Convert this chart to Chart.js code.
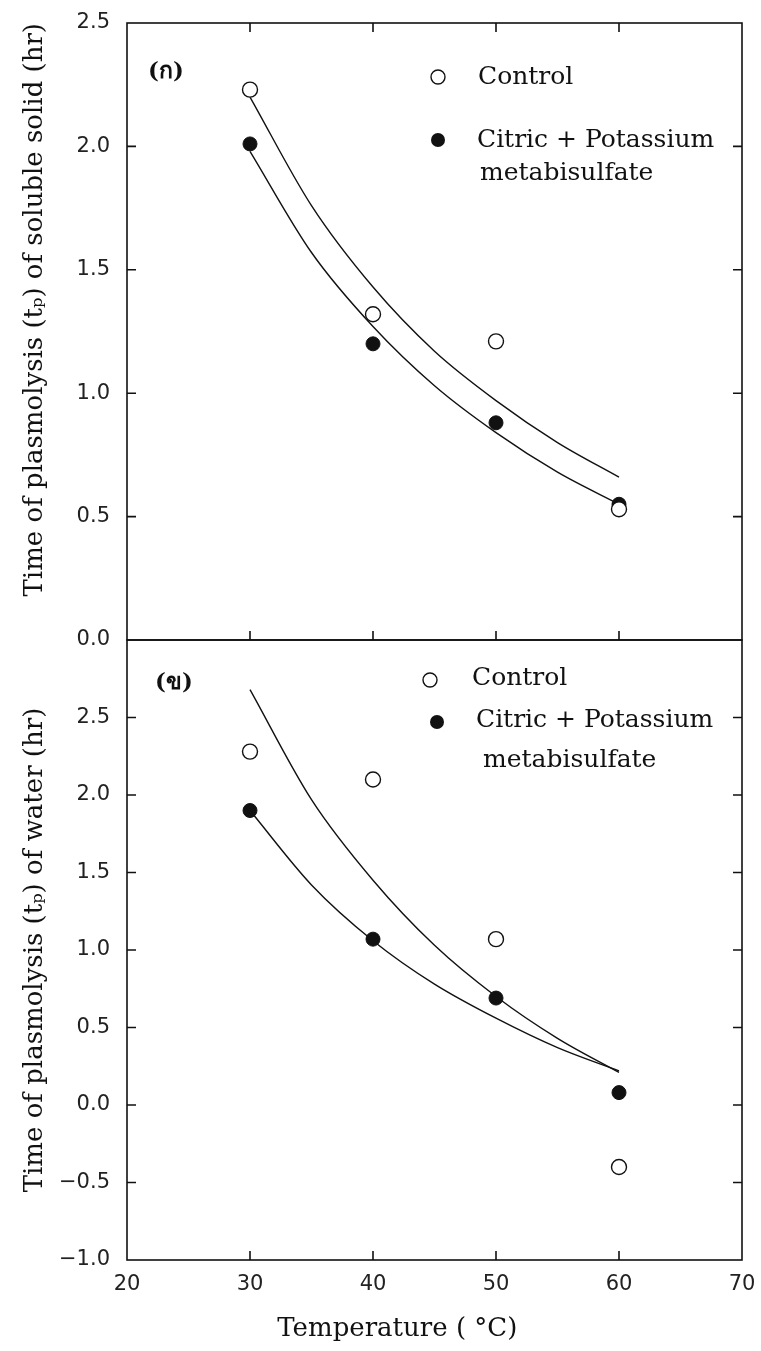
<!DOCTYPE html>
<html>
<head>
<meta charset="utf-8">
<script src="https://cdn.jsdelivr.net/npm/chart.js@4.4.1/dist/chart.umd.min.js"></script>
<style>
  html, body { margin: 0; padding: 0; background: #fff; }
  #wrap { position: relative; width: 761px; height: 1351px; overflow: hidden; }
  .panel { position: absolute; left: 0; width: 761px; }
  #top { top: 0; height: 660px; }
  #bottom { top: 620px; height: 731px; }
</style>
</head>
<body>
<div id="wrap">
  <div class="panel" id="top"><canvas id="chartTop"></canvas></div>
  <div class="panel" id="bottom"><canvas id="chartBottom"></canvas></div>
</div>
<script>
// Measured temperatures (°C)
const temps = [30, 40, 50, 60];

// (ก) time of plasmolysis of soluble solid (hr)
const solidControl = [2.23, 1.32, 1.21, 0.53];
const solidCitric = [2.01, 1.20, 0.88, 0.55];

// (ข) time of plasmolysis of water (hr)
const waterControl = [2.28, 2.10, 1.07, -0.40];
const waterCitric = [1.90, 1.07, 0.69, 0.08];

// fitted curves
const curveTemps = [30, 35, 40, 45, 50, 55, 60];
const solidControlFit = [2.20, 1.76, 1.43, 1.17, 0.97, 0.80, 0.66];
const solidCitricFit = [1.98, 1.57, 1.27, 1.03, 0.84, 0.68, 0.55];
const waterControlFit = [2.68, 1.97, 1.45, 1.03, 0.70, 0.43, 0.21];
const waterCitricFit = [1.90, 1.42, 1.06, 0.78, 0.56, 0.37, 0.22];

// tick labels
const xTicks = [20, 30, 40, 50, 60, 70];
const solidTicks = [0, 0.5, 1.0, 1.5, 2.0, 2.5];
const waterTicks = [-1.0, -0.5, 0, 0.5, 1.0, 1.5, 2.0, 2.5];

const INK = '#111';
const SERIF = '"DejaVu Serif", serif';
const pts = (xs, ys) => xs.map((x, i) => ({ x: x, y: ys[i] }));

// frame with inward ticks, panel label and hand-placed legend
const framePlugin = {
    id: 'frame',
    afterDatasetsDraw(chart, args, opts) {
        const { ctx, chartArea: a, scales: { x, y } } = chart;
        ctx.save();
        ctx.strokeStyle = INK;
        ctx.lineWidth = 1.6;
        ctx.strokeRect(a.left, a.top, a.right - a.left, a.bottom - a.top);

        const t = 9;
        ctx.beginPath();
        xTicks.forEach(v => {
            if (v <= x.min || v >= x.max) return;
            const px = x.getPixelForValue(v);
            ctx.moveTo(px, a.bottom); ctx.lineTo(px, a.bottom - t);
            if (opts.topTicks) { ctx.moveTo(px, a.top); ctx.lineTo(px, a.top + t); }
        });
        y.ticks.forEach(tk => {
            if (tk.value <= y.min || tk.value >= y.max) return;
            const py = y.getPixelForValue(tk.value);
            ctx.moveTo(a.left, py); ctx.lineTo(a.left + t, py);
            ctx.moveTo(a.right, py); ctx.lineTo(a.right - t, py);
        });
        ctx.stroke();

        // panel label
        ctx.fillStyle = INK;
        ctx.textBaseline = 'middle';
        ctx.textAlign = 'left';
        ctx.font = 'bold 23px ' + SERIF;
        ctx.fillText(opts.label, a.left + opts.labelPos[0], a.top + opts.labelPos[1]);

        // legend
        ctx.font = '25px ' + SERIF;
        opts.legend.forEach(item => {
            const mx = a.left + item.marker[0], my = a.top + item.marker[1];
            ctx.beginPath();
            ctx.arc(mx, my, 7, 0, Math.PI * 2);
            if (item.filled) { ctx.fillStyle = INK; ctx.fill(); }
            else { ctx.fillStyle = '#fff'; ctx.fill(); ctx.lineWidth = 1.4; ctx.stroke(); }
            ctx.fillStyle = INK;
            item.lines.forEach(ln => {
                ctx.fillText(ln.text, a.left + ln.at[0], a.top + ln.at[1]);
            });
        });
        ctx.restore();
    }
};

function datasets(ctrl, citric, ctrlFit, citricFit) {
    return [
        {
            label: 'Control', data: pts(temps, ctrl), showLine: false,
            pointStyle: 'circle', pointRadius: 7.5, pointBorderWidth: 1.4,
            pointBorderColor: INK, pointBackgroundColor: '#fff', order: 0
        },
        {
            label: 'Citric + Potassium metabisulfate', data: pts(temps, citric), showLine: false,
            pointStyle: 'circle', pointRadius: 7, pointBorderWidth: 1,
            pointBorderColor: INK, pointBackgroundColor: INK, order: 0
        },
        {
            label: 'Control fit', data: pts(curveTemps, ctrlFit), showLine: true,
            borderColor: INK, borderWidth: 1.4, pointRadius: 0,
            cubicInterpolationMode: 'monotone', order: 1
        },
        {
            label: 'Citric fit', data: pts(curveTemps, citricFit), showLine: true,
            borderColor: INK, borderWidth: 1.4, pointRadius: 0,
            cubicInterpolationMode: 'monotone', order: 1
        }
    ];
}

function yScale(min, max, ticks, title, align) {
    return {
        type: 'linear', min: min, max: max,
        afterBuildTicks: s => { s.ticks = ticks.map(v => ({ value: v })); },
        afterFit: s => { s.width = 127; s.paddingTop = 0; s.paddingBottom = 0; },
        grid: { display: false, drawTicks: false },
        border: { display: false },
        ticks: {
            padding: 17, color: '#222',
            font: { family: '"DejaVu Sans", sans-serif', size: 21 },
            callback: v => v < 0 ? '\u2212' + Math.abs(v).toFixed(1) : v.toFixed(1)
        },
        title: {
            display: true, text: title, color: INK, align: align,
            padding: { top: 20, bottom: 0 },
            font: { family: SERIF, size: 26 }
        }
    };
}

function xScale(showLabels) {
    return {
        type: 'linear', min: 20, max: 70,
        afterBuildTicks: s => { s.ticks = xTicks.map(v => ({ value: v })); },
        afterFit: s => { s.height = showLabels ? 91 : 0; s.paddingLeft = 0; s.paddingRight = 0; },
        grid: { display: false, drawTicks: false },
        border: { display: false },
        ticks: {
            display: showLabels, padding: 12, color: '#222', maxRotation: 0,
            font: { family: '"DejaVu Sans", sans-serif', size: 21 }
        },
        title: {
            // trailing spaces nudge the title left of centre, as in the original
            display: showLabels, text: 'Temperature ( \u00B0C)' + '\u00A0'.repeat(9), color: INK,
            padding: { top: 0, bottom: 6 },
            font: { family: SERIF, size: 26 }
        }
    };
}

const common = {
    type: 'scatter',
    plugins: [framePlugin]
};

new Chart(document.getElementById('chartTop'), {
    ...common,
    data: { datasets: datasets(solidControl, solidCitric, solidControlFit, solidCitricFit) },
    options: {
        responsive: true, maintainAspectRatio: false, animation: false,
        layout: { padding: { top: 23, right: 19, bottom: 20, left: 0 } },
        scales: {
            x: xScale(false),
            y: yScale(0, 2.5, solidTicks, 'Time of plasmolysis (t\u209A) of soluble solid (hr)', 'end')
        },
        plugins: {
            legend: { display: false }, tooltip: { enabled: false },
            frame: {
                topTicks: true, label: '(\u0E01)', labelPos: [21, 49],
                legend: [
                    { marker: [311, 54], filled: false, lines: [{ text: 'Control', at: [351, 54] }] },
                    { marker: [311, 117], filled: true, lines: [
                        { text: 'Citric + Potassium', at: [350, 117] },
                        { text: 'metabisulfate', at: [353, 150] }
                    ] }
                ]
            }
        }
    }
});

new Chart(document.getElementById('chartBottom'), {
    ...common,
    data: { datasets: datasets(waterControl, waterCitric, waterControlFit, waterCitricFit) },
    options: {
        responsive: true, maintainAspectRatio: false, animation: false,
        layout: { padding: { top: 20, right: 19, bottom: 0, left: 0 } },
        scales: {
            x: xScale(true),
            y: yScale(-1, 3, waterTicks, 'Time of plasmolysis (t\u209A) of water (hr)', 'center')
        },
        plugins: {
            legend: { display: false }, tooltip: { enabled: false },
            frame: {
                topTicks: false, label: '(\u0E02)', labelPos: [28, 43],
                legend: [
                    { marker: [303, 40], filled: false, lines: [{ text: 'Control', at: [345, 38] }] },
                    { marker: [310, 82], filled: true, lines: [
                        { text: 'Citric + Potassium', at: [349, 80] },
                        { text: 'metabisulfate', at: [356, 120] }
                    ] }
                ]
            }
        }
    }
});
</script>
</body>
</html>
